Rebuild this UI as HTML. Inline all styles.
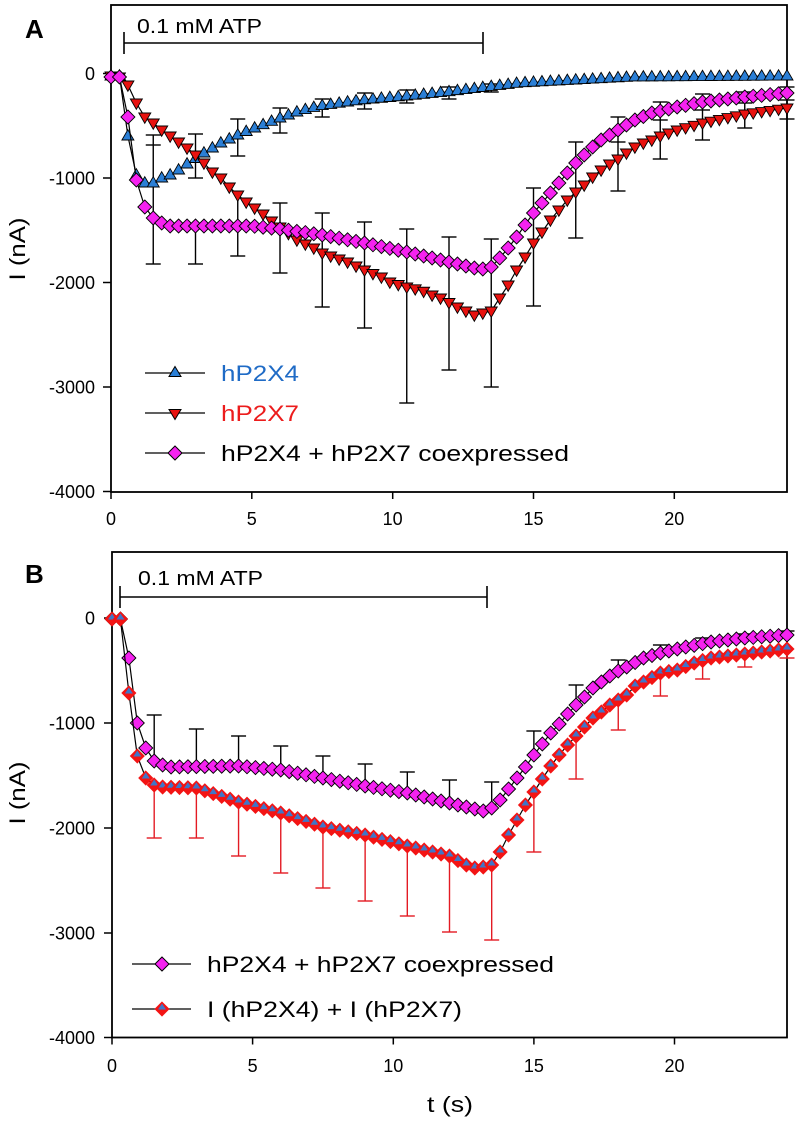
<!DOCTYPE html>
<html><head><meta charset="utf-8"><style>
html,body{margin:0;padding:0;background:#fff;}
svg{display:block;}
text{font-family:"Liberation Sans",Arial,sans-serif;fill:#000;}
</style></head><body>
<svg width="800" height="1126" viewBox="0 0 800 1126" xmlns="http://www.w3.org/2000/svg">
<rect x="0" y="0" width="800" height="1126" fill="#fff"/>
<!-- Panel A frame -->
<rect x="111" y="5" width="676" height="487" fill="none" stroke="#000" stroke-width="1.8"/>
<g stroke="#000" stroke-width="1.5">
<line x1="103" y1="73.5" x2="111" y2="73.5"/><line x1="103" y1="178" x2="111" y2="178"/><line x1="103" y1="282.5" x2="111" y2="282.5"/><line x1="103" y1="387" x2="111" y2="387"/><line x1="103" y1="491.5" x2="111" y2="491.5"/>
<line x1="111" y1="492" x2="111" y2="499"/><line x1="251.8" y1="492" x2="251.8" y2="499"/><line x1="392.7" y1="492" x2="392.7" y2="499"/><line x1="533.5" y1="492" x2="533.5" y2="499"/><line x1="674.3" y1="492" x2="674.3" y2="499"/>
</g>
<g font-size="18" text-anchor="end">
<text x="95" y="80">0</text><text x="95" y="184.5">-1000</text><text x="95" y="289">-2000</text><text x="95" y="393.5">-3000</text><text x="95" y="498">-4000</text>
</g>
<g font-size="18" text-anchor="middle">
<text x="111" y="525">0</text><text x="251.8" y="525">5</text><text x="392.7" y="525">10</text><text x="533.5" y="525">15</text><text x="674.3" y="525">20</text>
</g>
<text x="25" y="38" font-size="26" font-weight="bold">A</text>
<text transform="translate(25,249) rotate(-90)" font-size="22" text-anchor="middle" textLength="63" lengthAdjust="spacingAndGlyphs">I (nA)</text>
<g stroke="#000" stroke-width="1.6">
<line x1="124" y1="43" x2="483" y2="43"/><line x1="124" y1="32" x2="124" y2="54"/><line x1="483" y1="32" x2="483" y2="54"/>
</g>
<text x="137" y="33" font-size="20" textLength="125" lengthAdjust="spacingAndGlyphs">0.1 mM ATP</text>

<!-- Panel B frame -->
<rect x="112" y="552" width="675" height="485.5" fill="none" stroke="#000" stroke-width="1.8"/>
<g stroke="#000" stroke-width="1.5">
<line x1="104" y1="618" x2="112" y2="618"/><line x1="104" y1="723" x2="112" y2="723"/><line x1="104" y1="828" x2="112" y2="828"/><line x1="104" y1="933" x2="112" y2="933"/><line x1="104" y1="1037.5" x2="112" y2="1037.5"/>
<line x1="112" y1="1037.5" x2="112" y2="1044.5"/><line x1="252.6" y1="1037.5" x2="252.6" y2="1044.5"/><line x1="393.3" y1="1037.5" x2="393.3" y2="1044.5"/><line x1="533.9" y1="1037.5" x2="533.9" y2="1044.5"/><line x1="674.5" y1="1037.5" x2="674.5" y2="1044.5"/>
</g>
<g font-size="18" text-anchor="end">
<text x="95" y="624.5">0</text><text x="95" y="729.5">-1000</text><text x="95" y="834.5">-2000</text><text x="95" y="939.5">-3000</text><text x="95" y="1044">-4000</text>
</g>
<g font-size="18" text-anchor="middle">
<text x="112" y="1072">0</text><text x="252.6" y="1072">5</text><text x="393.3" y="1072">10</text><text x="533.9" y="1072">15</text><text x="674.5" y="1072">20</text>
</g>
<text x="25" y="583" font-size="26" font-weight="bold">B</text>
<text transform="translate(25,793) rotate(-90)" font-size="22" text-anchor="middle" textLength="63" lengthAdjust="spacingAndGlyphs">I (nA)</text>
<g stroke="#000" stroke-width="1.6">
<line x1="120" y1="597" x2="487" y2="597"/><line x1="120" y1="586" x2="120" y2="608"/><line x1="487" y1="586" x2="487" y2="608"/>
</g>
<text x="138" y="585" font-size="20" textLength="125" lengthAdjust="spacingAndGlyphs">0.1 mM ATP</text>
<text x="450" y="1112" font-size="22" text-anchor="middle" textLength="46" lengthAdjust="spacingAndGlyphs">t (s)</text>

<g id="dyn"></g>

<!-- Legend A -->
<g stroke="#000" stroke-width="1.3">
<line x1="145" y1="373" x2="205" y2="373"/><line x1="145" y1="413" x2="205" y2="413"/><line x1="145" y1="453" x2="205" y2="453"/>
</g>
<polygon points="175,366.5 181,376.5 169,376.5" fill="#2b7fd6" stroke="#000" stroke-width="1"/>
<polygon points="175,419.5 181,409.5 169,409.5" fill="#e8120f" stroke="#000" stroke-width="1"/>
<polygon points="175,446 182,453 175,460 168,453" fill="#f522f0" stroke="#000" stroke-width="1"/>
<text x="221" y="381" font-size="22.5" style="fill:#1f6bc6" textLength="78" lengthAdjust="spacingAndGlyphs">hP2X4</text>
<text x="221" y="421" font-size="22.5" style="fill:#ec1c1c" textLength="78" lengthAdjust="spacingAndGlyphs">hP2X7</text>
<text x="221" y="461" font-size="22.5" textLength="348" lengthAdjust="spacingAndGlyphs">hP2X4 + hP2X7 coexpressed</text>

<!-- Legend B -->
<g stroke="#000" stroke-width="1.3">
<line x1="132" y1="964" x2="191" y2="964"/><line x1="132" y1="1009" x2="191" y2="1009"/>
</g>
<polygon points="162,957 169,964 162,971 155,964" fill="#f522f0" stroke="#000" stroke-width="1"/>
<polygon points="162,1002 169,1009 162,1016 155,1009" fill="#f31414" stroke="#f31414" stroke-width="0.8"/>
<polygon points="162,1003.5 166,1009.5 158,1009.5" fill="#3f76c8"/>
<text x="207" y="972" font-size="22.5" textLength="347" lengthAdjust="spacingAndGlyphs">hP2X4 + hP2X7 coexpressed</text>
<text x="207" y="1017" font-size="22.5" textLength="255" lengthAdjust="spacingAndGlyphs">I (hP2X4) + I (hP2X7)</text>
</svg>
<script>
(function(){
var NS="http://www.w3.org/2000/svg";
var g=document.getElementById('dyn');
function el(tag,a){var e=document.createElementNS(NS,tag);for(var k in a)e.setAttribute(k,a[k]);g.appendChild(e);return e;}
function interp(kp,t){if(t<=kp[0][0])return kp[0][1];for(var i=1;i<kp.length;i++){if(t<=kp[i][0]+1e-9){var t0=kp[i-1][0],y0=kp[i-1][1],t1=kp[i][0],y1=kp[i][1];return y0+(y1-y0)*(t-t0)/(t1-t0);}}return kp[kp.length-1][1];}
function pts(kp,x0,sx){var a=[];for(var k=0;k<=80;k++){var t=k*0.3;a.push([x0+sx*t,interp(kp,t)]);}return a;}
function line(p){el('polyline',{points:p.map(function(q){return q[0].toFixed(1)+','+q[1].toFixed(1);}).join(' '),fill:'none',stroke:'#000','stroke-width':'1.2'});}
function triUp(x,y){el('polygon',{points:x+','+(y-6.3)+' '+(x+6)+','+(y+4)+' '+(x-6)+','+(y+4),fill:'#2b7fd6',stroke:'#000','stroke-width':'0.9'});}
function triDn(x,y){el('polygon',{points:x+','+(y+6.3)+' '+(x+6)+','+(y-4)+' '+(x-6)+','+(y-4),fill:'#e8120f',stroke:'#000','stroke-width':'0.9'});}
function dia(x,y){el('polygon',{points:x+','+(y-7)+' '+(x+7)+','+y+' '+x+','+(y+7)+' '+(x-7)+','+y,fill:'#f522f0',stroke:'#000','stroke-width':'0.9'});}
function sumM(x,y){el('polygon',{points:x+','+(y-7)+' '+(x+7)+','+y+' '+x+','+(y+7)+' '+(x-7)+','+y,fill:'#f31414',stroke:'#f31414','stroke-width':'0.8'});
 el('polygon',{points:x+','+(y-5.5)+' '+(x+4)+','+(y+0.5)+' '+(x-4)+','+(y+0.5),fill:'#3f76c8'});}
function bar(x,y1,y2,col){el('line',{x1:x,y1:y1,x2:x,y2:y2,stroke:col,'stroke-width':'1.4'});}
function cap(x,y,col){el('line',{x1:x-7.5,y1:y,x2:x+7.5,y2:y,stroke:col,'stroke-width':'1.4'});}

/* ---------- Panel A ---------- */
var XA=111, SA=676/24;
var blueA=[[0,76],[0.3,76],[0.6,136],[0.9,175],[1.2,183],[1.5,183],[1.8,178],[2.1,175],[2.4,170],[2.7,164],[3.3,153],[3.9,143],[4.5,135],[5.1,128],[6.0,118],[6.7,111],[7.4,106],[8.9,100],[10.5,96],[11.9,92],[14.5,83],[18.5,77],[24,76]];
var redA=[[0,76],[0.3,77],[0.6,85],[0.9,103],[1.2,117],[1.5,123],[1.8,130],[2.1,136],[2.4,142],[2.7,148],[3.0,155],[3.3,163],[3.6,172],[3.9,178],[4.2,187],[4.5,195],[4.8,202],[5.1,208],[5.4,214],[5.7,221],[6.0,227],[6.6,240],[7.2,248],[7.5,253],[8.4,262],[9.0,270],[9.6,277],[9.9,282],[10.5,287],[11.0,290],[11.4,295],[11.7,298],[12.3,307],[12.9,315],[13.2,313],[13.5,311],[13.8,298],[14.1,285],[14.4,270],[14.7,257],[15.0,243],[15.3,232],[15.6,220],[15.9,210],[16.2,200],[16.5,192],[16.8,185],[17.1,177],[17.4,170],[17.7,164],[18.0,159],[18.3,153],[18.6,147],[18.9,143],[19.2,140],[19.5,136],[20.1,130],[21.0,123],[22.5,114],[24,108]];
var magA=[[0,77],[0.3,77],[0.6,117],[0.9,180],[1.2,207],[1.5,218],[1.8,223],[2.1,226],[5.0,226],[6.0,229],[7.5,235],[9.0,243],[10.5,252],[12.0,262],[12.9,268],[13.2,269],[13.5,267],[13.8,258],[14.1,248],[14.4,237],[14.7,225],[15.0,213],[15.3,203],[15.6,193],[15.9,183],[16.2,173],[16.5,163],[16.8,155],[17.1,147],[17.4,140],[17.7,135],[18.0,130],[18.6,120],[19.2,113],[20.1,107],[21.0,102],[22.5,97],[24,93]];
var barsA=[
 [1.5,[[135,264]],[135,145,264]],
 [3.0,[[134,178],[225,264]],[134,178,264]],
 [4.5,[[119,156],[193,256]],[119,156,256]],
 [6.0,[[108,133],[203,273]],[108,133,203,273]],
 [7.5,[[99,117],[213,307]],[99,117,213,307]],
 [9.0,[[93,109],[222,328]],[93,109,222,328]],
 [10.5,[[90,103],[229,403]],[90,103,229,403]],
 [12.0,[[87,99],[237,370]],[87,99,237,370]],
 [13.5,[[84,92],[239,387]],[84,92,239,387]],
 [15.0,[[188,306]],[188,306]],
 [16.5,[[142,238]],[142,238]],
 [18.0,[[117,191]],[117,142,191]],
 [19.5,[[102,159]],[102,120,159]],
 [21.0,[[94,140]],[94,110,140]],
 [22.5,[[92,128]],[92,103,128]],
 [24.0,[[87,119]],[87,100,119]]];
barsA.forEach(function(b){var x=XA+SA*b[0];b[1].forEach(function(s){bar(x,s[0],s[1],'#000');});b[2].forEach(function(c){cap(x,c,'#000');});});
var pb=pts(blueA,XA,SA), pr=pts(redA,XA,SA), pm=pts(magA,XA,SA);
line(pb); pb.forEach(function(p){triUp(p[0],p[1]);});
line(pr); pr.forEach(function(p){triDn(p[0],p[1]);});
line(pm); pm.forEach(function(p){dia(p[0],p[1]);});

/* ---------- Panel B ---------- */
var XB=112, SB=675/24;
var magB=[[0,619],[0.3,619],[0.6,658],[0.9,723],[1.2,748],[1.5,761],[1.8,765],[2.1,767],[4.5,766],[6.0,770],[7.5,778],[9.0,786],[10.5,793],[12.0,803],[12.9,809],[13.2,811],[13.5,808],[13.8,800],[14.1,789],[14.4,778],[14.7,767],[15.0,755],[15.3,744],[15.6,733],[15.9,724],[16.2,714],[16.5,705],[16.8,697],[17.1,688],[17.4,682],[17.7,676],[18.0,671],[18.3,667],[18.9,658],[19.5,653],[20.4,647],[21.3,642],[22.5,638],[24,635]];
var sumB=[[0,619],[0.3,619],[0.6,693],[0.9,756],[1.2,778],[1.5,785],[1.8,787],[3.0,788],[4.5,802],[6.0,813],[7.5,827],[9.0,835],[10.5,846],[12.0,856],[12.6,865],[12.9,868],[13.2,867],[13.5,865],[13.8,852],[14.1,835],[14.4,820],[14.7,805],[15.0,792],[15.3,779],[15.6,766],[15.9,755],[16.2,745],[16.5,736],[16.8,727],[17.1,718],[17.4,712],[17.7,705],[18.0,700],[18.3,695],[18.6,686],[18.9,682],[19.5,673],[20.1,670],[20.7,663],[21.3,658],[22.5,654],[24,649]];
var mUp={1.5:715,3:729,4.5:736,6:746,7.5:756,9:764,10.5:772,12:780,13.5:782,15:731,16.5:685,18:660,19.5:645,21:638,22.5:634,24:631};
var rDn={1.5:838,3:838,4.5:856,6:873,7.5:888,9:901,10.5:916,12:932,13.5:940,15:852,16.5:779,18:730,19.5:696,21:679,22.5:667,24:658};
for(var k in mUp){var t=parseFloat(k),x=XB+SB*t,y=interp(magB,t);bar(x,mUp[k],y,'#000');cap(x,mUp[k],'#000');}
for(var k2 in rDn){var t2=parseFloat(k2),x2=XB+SB*t2,y2=interp(sumB,t2);bar(x2,y2,rDn[k2],'#e31b23');cap(x2,rDn[k2],'#e31b23');}
var qm=pts(magB,XB,SB), qs=pts(sumB,XB,SB);
line(qm); qm.forEach(function(p){dia(p[0],p[1]);});
line(qs); qs.forEach(function(p){sumM(p[0],p[1]);});
})();
</script>
</body></html>
